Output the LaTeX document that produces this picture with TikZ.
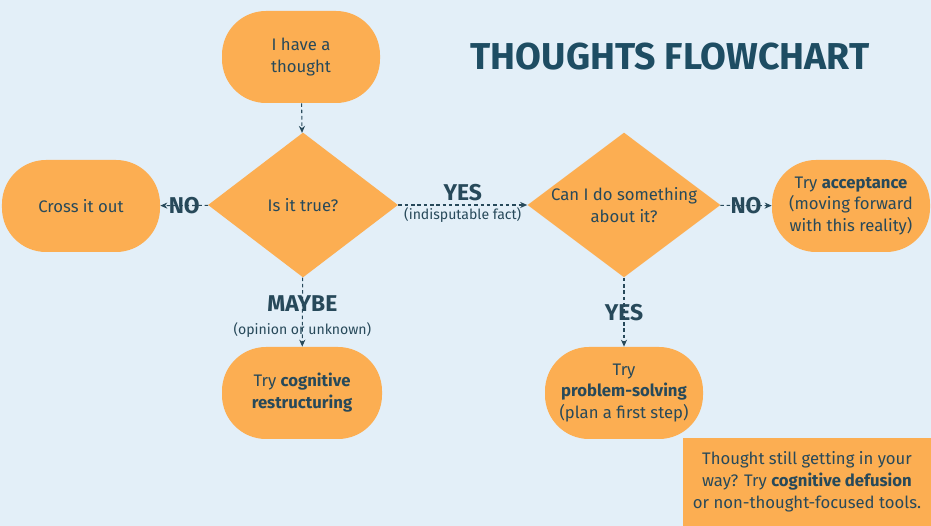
\documentclass[tikz,border=0pt]{standalone}
\usepackage{fontspec}
\setmainfont{Fira Sans}
\usetikzlibrary{shapes.geometric,arrows.meta}
\definecolor{flowbg}{HTML}{E3EFF8}
\definecolor{floworange}{HTML}{FCAE52}
\definecolor{flowink}{HTML}{27495A}
\definecolor{flowtitle}{HTML}{1E4D63}
\tikzset{
  flownode/.style={fill=floworange, draw=none, text=flowink, align=center,
               font=\fontsize{9.5}{12.5}\selectfont, inner sep=0pt},
  endnode/.style={flownode, rectangle, rounded corners=0.88cm,
               minimum width=3.16cm, minimum height=1.84cm},
  decision/.style={flownode, diamond, aspect=1.33,
               minimum width=3.8cm, minimum height=2.9cm},
  tipbox/.style={flownode, rectangle, minimum width=4.96cm, minimum height=1.76cm},
  flowlink/.style={draw=flowink, line width=0.6pt, dash pattern=on 2pt off 1.6pt,
               -{Stealth[length=4pt,width=3.5pt]}},
  answer/.style={text=flowink, font=\fontsize{13}{14}\selectfont\bfseries, inner sep=1pt},
  answernote/.style={text=flowink, font=\fontsize{8}{9}\selectfont, inner sep=1pt},
}

\begin{document}
\begin{tikzpicture}
    \useasboundingbox (0,0) rectangle (18.62,-10.52);
    \fill[flowbg] (0,0) rectangle (18.62,-10.52);
    \node[text=flowtitle, font=\fontsize{21.3}{24}\selectfont\bfseries] (title) at (13.4, -1.14) {THOUGHTS FLOWCHART};
    \node[endnode] (start) at (6.02, -1.14) {I have a\\thought};
    \node[decision] (true) at (6.06, -4.10) {Is it true?};
    \node[endnode] (cross) at (1.62, -4.12) {Cross it out};
    \node[decision, minimum width=3.86cm, minimum height=2.88cm] (cando) at (12.48, -4.10) {Can I do something\\about it?};
    \node[endnode] (accept) at (17.02, -4.12) {Try \textbf{acceptance}\\(moving forward\\with this reality)};
    \node[endnode, minimum width=3.2cm] (restruct) at (6.04, -7.86) {Try \textbf{cognitive}\\\textbf{restructuring}};
    \node[endnode] (solve) at (12.48, -7.86) {Try\\\textbf{problem-solving}\\(plan a first step)};
    \node[tipbox] (tip) at (16.14, -9.64) {Thought still getting in your\\way? Try \textbf{cognitive defusion}\\or non-thought-focused tools.};
    % links
    \draw[flowlink] (start) -- (true);
    \draw[flowlink] (true) -- node[answer] {NO} (cross);
    \draw[flowlink] (true) -- node[answer, above=1pt] {YES} node[answernote, below=0pt] {(indisputable fact)} (cando);
    \draw[flowlink] (true) -- node[answer, align=center, pos=0.56] {MAYBE\\[-1pt]{\fontsize{8}{9}\selectfont\mdseries (opinion or unknown)}} (restruct);
    \draw[flowlink] (cando) -- node[answer] {NO} (accept);
    \draw[flowlink] (cando) -- node[answer] {YES} (solve);
  \end{tikzpicture}
\end{document}
